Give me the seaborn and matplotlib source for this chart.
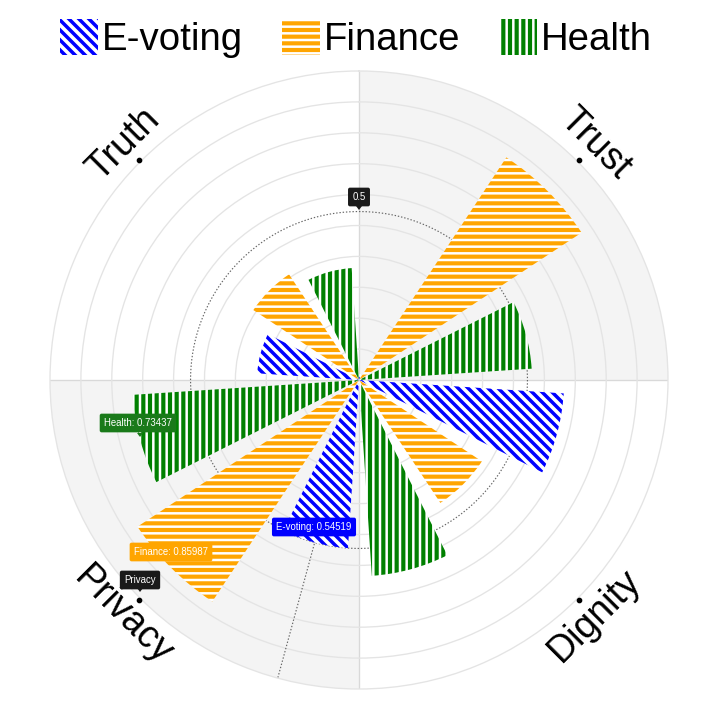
import numpy as np
import pandas as pd
import matplotlib
matplotlib.use("Agg")
import matplotlib.pyplot as plt
import matplotlib as mpl
import seaborn as sns
from matplotlib.patches import Patch, Polygon

# ---------------- data ----------------
categories = ["Trust", "Dignity", "Privacy", "Truth"]
series_names = ["E-voting", "Finance", "Health"]
evoting = [0.02, 0.664, 0.54519, 0.33]
finance = [0.864, 0.477, 0.85987, 0.41]
health = [0.56, 0.635, 0.73437, 0.363]
radius_ticks = [0.1, 0.2, 0.3, 0.4, 0.5, 0.6, 0.7, 0.8, 0.9]
radius_max = 1.0

# tooltip (hover state) shown in the reference
pointer_value = 0.54519
pointer_value_label = "0.5"
pointer_category = "Privacy"
tooltip_texts = ["Health: 0.73437", "Finance: 0.85987", "E-voting: 0.54519"]

# ---------------- style ----------------
colors = {"E-voting": "#0000ff", "Finance": "#ffa500", "Health": "#008000"}
hatches = {"E-voting": "\\\\\\\\", "Finance": "---", "Health": "|||"}
hatch_lw = {"E-voting": 2.1, "Finance": 2.5, "Health": 2.5}
offset_deg = {"E-voting": 15.25, "Finance": 45.0, "Health": 74.75}
bar_deg = 23.0

sns.set_theme(style="white")
plt.rcParams["font.family"] = ["Liberation Sans", "DejaVu Sans"]
plt.rcParams["text.color"] = "black"
plt.rcParams["hatch.linewidth"] = 2.5

DPI = 120
fig = plt.figure(figsize=(702 / DPI, 701 / DPI), dpi=DPI)
fig.patch.set_facecolor("white")

cx, cy, R = 359, 380, 309  # pixel centre / radius of the polar area
ax = fig.add_axes([(cx - R) / 702, (701 - cy - R) / 701, 2 * R / 702, 2 * R / 701],
                  projection="polar")
ax.set_theta_zero_location("N")
ax.set_theta_direction(-1)
ax.set_facecolor("white")

# alternating quadrant background
ax.bar(np.deg2rad([45, 225]), [radius_max, radius_max], width=np.pi / 2,
       color="#f4f4f4", linewidth=0, zorder=0.1)

# grid
ax.set_rgrids(radius_ticks, labels=[])
ax.set_thetagrids([0, 90, 180, 270], labels=[])
ax.yaxis.grid(True, color="#e4e4e4", linewidth=0.8)
ax.xaxis.grid(True, color="#d9d9d9", linewidth=0.8)
ax.set_axisbelow(True)
ax.spines["polar"].set_color("#e4e4e4")
ax.spines["polar"].set_linewidth(0.8)

# hover pointers (under the bars)
theta_p = np.deg2rad(180 + offset_deg["E-voting"])
tt = np.linspace(0, 2 * np.pi, 500)
ax.plot(tt, np.full_like(tt, pointer_value), color="#666666", lw=0.7,
        ls=(0, (1.2, 1.6)), zorder=0.6)
ax.plot([theta_p, theta_p], [0, radius_max], color="#666666", lw=0.7,
        ls=(0, (1.2, 1.6)), zorder=0.6)

# bars
values = {"E-voting": evoting, "Finance": finance, "Health": health}
for name in series_names:
    theta = [np.deg2rad(90 * i + offset_deg[name]) for i in range(len(categories))]
    df = pd.DataFrame({"theta": theta, "value": values[name]})
    before = set(map(id, ax.patches))
    with mpl.rc_context({"hatch.linewidth": hatch_lw[name]}):
        sns.barplot(data=df, x="theta", y="value", ax=ax, native_scale=True,
                    width=bar_deg / 90.0, color="white", errorbar=None,
                    orient="x", saturation=1)
    for p in ax.patches:
        if id(p) not in before:
            p.set_facecolor("white")
            p.set_edgecolor(colors[name])
            p.set_hatch(hatches[name])
            p.set_linewidth(0)
            p.set_zorder(2)
            if hasattr(p, "set_hatch_linewidth"):
                p.set_hatch_linewidth(hatch_lw[name])

ax.set_xlabel("")
ax.set_ylabel("")
ax.set_thetamin(0)
ax.set_thetamax(360)
ax.set_ylim(0, radius_max)

# category labels
rots = [-45, 45, -45, 45]
for i, cat in enumerate(categories):
    th = np.deg2rad(45 + 90 * i)
    ax.text(th, 1.08, cat, rotation=rots[i], rotation_mode="anchor",
            ha="center", va="center", fontsize=22.5, color="black", clip_on=False)
    ax.plot([th], [1.005], marker="o", ms=2.4, color="black", clip_on=False, zorder=5)

# legend
handles = []
for n in series_names:
    with mpl.rc_context({"hatch.linewidth": hatch_lw[n]}):
        h = Patch(facecolor="white", edgecolor=colors[n], hatch=hatches[n], linewidth=0)
    if hasattr(h, "set_hatch_linewidth"):
        h.set_hatch_linewidth(hatch_lw[n])
    handles.append(h)
leg = fig.legend(handles, series_names, loc="upper center", bbox_to_anchor=(0.507, 1.005),
                 ncol=3, frameon=False, fontsize=23, handlelength=1.0, handleheight=1.05,
                 handletextpad=0.1, columnspacing=1.0, borderaxespad=0.2)
for t in leg.get_texts():
    t.set_color("black")
for lh, n in zip(leg.legend_handles, series_names):
    if hasattr(lh, "set_hatch_linewidth"):
        lh.set_hatch_linewidth(hatch_lw[n])

# tooltip boxes
def fx(x):
    return x / 702


def fy(y):
    return 1 - y / 701


def box(x, y, text, color):
    fig.text(fx(x), fy(y), text, ha="center", va="center", fontsize=5.8, color="white",
             bbox=dict(boxstyle="round,pad=0.45,rounding_size=0.2", fc=color, ec="none"),
             zorder=10)


def pointer(x, y, color):
    tri = Polygon([[fx(x - 3), fy(y)], [fx(x + 3), fy(y)], [fx(x), fy(y + 4)]],
                  closed=True, transform=fig.transFigure, fc=color, ec="none", zorder=10)
    fig.add_artist(tri)


box(138, 423, tooltip_texts[0], "#1a7a1a")
pointer(140, 433, "#1a7a1a")
box(171, 552, tooltip_texts[1], colors["Finance"])
box(314, 527, tooltip_texts[2], colors["E-voting"])
box(140, 580, pointer_category, "#1a1a1a")
pointer(140, 588, "#1a1a1a")
box(359, 197, pointer_value_label, "#1a1a1a")
pointer(359, 206, "#1a1a1a")

fig.savefig("out.png", dpi=DPI, facecolor="white")
